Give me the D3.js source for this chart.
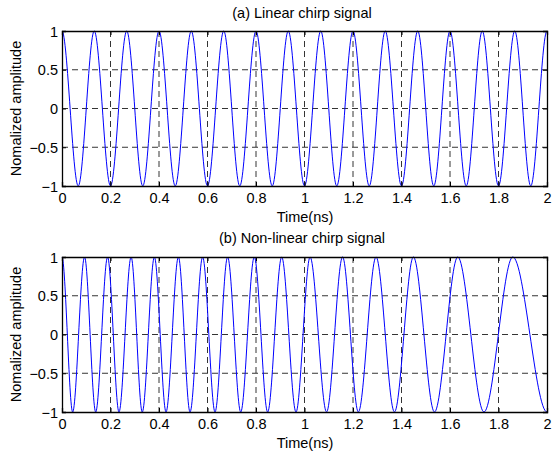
<!DOCTYPE html>
<html>
<head>
<meta charset="utf-8">
<script src="https://cdn.jsdelivr.net/npm/d3@7"></script>
<style>
  html, body { margin: 0; padding: 0; background: #fff; }
  svg { display: block; }
  text { font-family: "Liberation Sans", Arial, sans-serif; fill: #000; }
</style>
</head>
<body>
<svg id="chart" width="553" height="456"></svg>
<script>
// ---- data ----
const timeTicks = [0, 0.2, 0.4, 0.6, 0.8, 1, 1.2, 1.4, 1.6, 1.8, 2];
const ampTicks = [-1, -0.5, 0, 0.5, 1];

// (a) linear chirp: times (ns) of successive extrema and their amplitudes
const linearTimes = [0, 0.067, 0.133, 0.2, 0.267, 0.333, 0.4, 0.467, 0.533, 0.6,
  0.667, 0.733, 0.8, 0.867, 0.933, 1.0, 1.067, 1.133, 1.2, 1.267, 1.333, 1.4,
  1.467, 1.533, 1.6, 1.667, 1.733, 1.8, 1.867, 1.933, 2.0];
const linearAmps = [1, -1, 1, -1, 1, -1, 1, -1, 1, -1, 1, -1, 1, -1, 1, -1,
  1, -1, 1, -1, 1, -1, 1, -1, 1, -1, 1, -1, 1, -1, 1];

// (b) non-linear chirp: times (ns) of successive extrema and their amplitudes
const nonlinearTimes = [0, 0.044, 0.093, 0.139, 0.188, 0.235, 0.285, 0.331, 0.381,
  0.429, 0.48, 0.528, 0.58, 0.631, 0.683, 0.737, 0.793, 0.848, 0.906, 0.965,
  1.023, 1.091, 1.157, 1.222, 1.295, 1.371, 1.449, 1.536, 1.632, 1.74, 1.859, 2.0];
const nonlinearAmps = [1, -1, 1, -1, 1, -1, 1, -1, 1, -1, 1, -1, 1, -1, 1, -1,
  1, -1, 1, -1, 1, -1, 1, -1, 1, -1, 1, -1, 1, -1, 1, -1];

const titles = ["(a) Linear chirp signal", "(b) Non-linear chirp signal"];
const xLabel = "Time(ns)";
const yLabel = "Nomalized amplitude";

// ---- layout ----
const svg = d3.select("#chart");
const left = 62, right = 547;
const panels = [
  { top: 31, bottom: 186, times: linearTimes, amps: linearAmps, title: titles[0], titleY: 18, xlabY: 222 },
  { top: 257, bottom: 412, times: nonlinearTimes, amps: nonlinearAmps, title: titles[1], titleY: 243, xlabY: 448 }
];

// smooth curve with flat tangents at every data point (extrema)
function curveFlat(context) {
  return {
    _p: null,
    areaStart() {}, areaEnd() {},
    lineStart() { this._p = null; },
    lineEnd() {},
    point(x, y) {
      x = +x; y = +y;
      if (!this._p) context.moveTo(x, y);
      else {
        const [x0, y0] = this._p, h = (x - x0) / 3;
        context.bezierCurveTo(x0 + h, y0, x - h, y, x, y);
      }
      this._p = [x, y];
    }
  };
}

const fs = 14.5;

panels.forEach(p => {
  const x = d3.scaleLinear().domain([0, 2]).range([left, right]);
  const y = d3.scaleLinear().domain([-1, 1]).range([p.bottom, p.top]);
  const g = svg.append("g");

  // grid (dashed)
  g.append("g").selectAll("line.gx")
    .data(timeTicks.filter(t => t > 0 && t < 2)).join("line")
    .attr("x1", d => x(d)).attr("x2", d => x(d))
    .attr("y1", p.top).attr("y2", p.bottom)
    .attr("stroke", "#000").attr("stroke-width", 0.8)
    .attr("stroke-dasharray", "6,4");
  g.append("g").selectAll("line.gy")
    .data(ampTicks.filter(t => t > -1 && t < 1)).join("line")
    .attr("y1", d => y(d)).attr("y2", d => y(d))
    .attr("x1", left).attr("x2", right)
    .attr("stroke", "#000").attr("stroke-width", 0.8)
    .attr("stroke-dasharray", "6,4");

  // signal
  const pts = p.times.map((t, i) => [t, p.amps[i]]);
  const line = d3.line().x(d => x(d[0])).y(d => y(d[1])).curve(curveFlat);
  g.append("path").datum(pts)
    .attr("d", line)
    .attr("fill", "none")
    .attr("stroke", "#0000ff")
    .attr("stroke-width", 1);

  // axes with inward ticks (MATLAB style), box on
  const tl = 4;
  const xb = g.append("g").attr("transform", `translate(0,${p.bottom})`)
    .call(d3.axisBottom(x).tickValues(timeTicks).tickSize(-tl).tickPadding(0).tickFormat(d3.format("~g")));
  const xt = g.append("g").attr("transform", `translate(0,${p.top})`)
    .call(d3.axisTop(x).tickValues(timeTicks).tickSize(-tl).tickFormat(""));
  const yl = g.append("g").attr("transform", `translate(${left},0)`)
    .call(d3.axisLeft(y).tickValues(ampTicks).tickSize(-tl).tickPadding(0).tickFormat(d3.format("~g")));
  const yr = g.append("g").attr("transform", `translate(${right},0)`)
    .call(d3.axisRight(y).tickValues(ampTicks).tickSize(-tl).tickFormat(""));
  [xb, xt, yl, yr].forEach(a => {
    a.select(".domain").attr("stroke", "#000").attr("stroke-width", 1.3);
    a.selectAll(".tick line").attr("stroke", "#000").attr("stroke-width", 1);
  });
  xb.selectAll(".tick text")
    .attr("y", 17).attr("dy", null)
    .attr("font-size", fs).attr("font-family", "Liberation Sans, Arial, sans-serif");
  yl.selectAll(".tick text")
    .attr("x", -4).attr("dy", "0.35em")
    .attr("font-size", fs).attr("font-family", "Liberation Sans, Arial, sans-serif");

  // title
  svg.append("text").attr("x", 302).attr("y", p.titleY)
    .attr("text-anchor", "middle").attr("font-size", fs).text(p.title);
  // x label
  svg.append("text").attr("x", 305).attr("y", p.xlabY)
    .attr("text-anchor", "middle").attr("font-size", fs).text(xLabel);
  // y label
  svg.append("text")
    .attr("transform", `translate(21,${(p.top + p.bottom) / 2}) rotate(-90)`)
    .attr("text-anchor", "middle").attr("font-size", fs).text(yLabel);
});
</script>
</body>
</html>
